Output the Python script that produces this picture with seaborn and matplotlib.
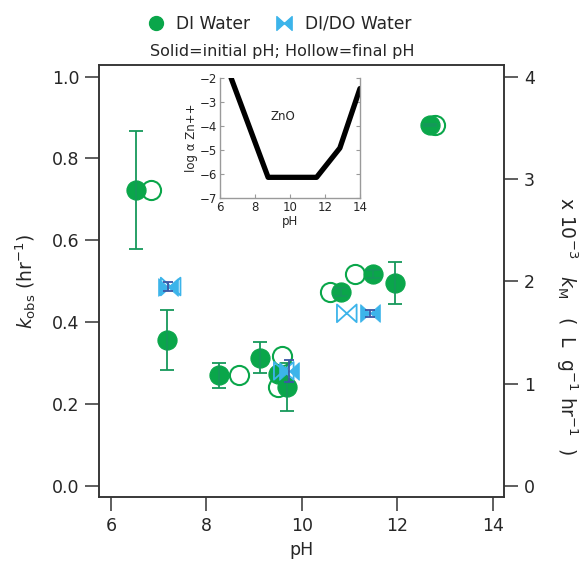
import numpy as np
import pandas as pd
import matplotlib
matplotlib.use("Agg")
import matplotlib.pyplot as plt
from matplotlib.path import Path
from matplotlib.lines import Line2D
import seaborn as sns

# ---------------- data ----------------
di_init_ph = [6.52, 7.17, 8.26, 9.12, 9.49, 9.68, 10.82, 11.49, 11.95, 12.69]
di_init_k = [0.723, 0.356, 0.270, 0.313, 0.273, 0.241, 0.474, 0.517, 0.495, 0.882]
di_init_err = [0.145, 0.073, 0.031, 0.038, 0.0, 0.058, 0.010, 0.010, 0.051, 0.003]

di_final_ph = [6.83, 8.68, 9.58, 9.50, 10.59, 11.12, 12.79]
di_final_k = [0.723, 0.270, 0.317, 0.241, 0.474, 0.517, 0.882]

dido_init_ph = [7.20, 9.72, 11.43]
dido_init_k = [0.487, 0.281, 0.4215]
dido_init_err = [0.012, 0.027, 0.008]

dido_final_ph = [7.25, 9.62, 10.94]
dido_final_k = [0.487, 0.281, 0.4215]

inset_ph = [6.63, 8.75, 11.52, 12.85, 14.0]
inset_log = [-2.0, -6.15, -6.15, -4.93, -2.45]

x_ticks = [6, 8, 10, 12, 14]
y_ticks = [0.0, 0.2, 0.4, 0.6, 0.8, 1.0]
y2_ticks = [0, 1, 2, 3, 4]
inset_yticks = [-7, -6, -5, -4, -3, -2]

# ---------------- style ----------------
sns.set_theme(style="white")
plt.rcParams["font.family"] = ["DejaVu Sans"]
plt.rcParams["mathtext.fontset"] = "dejavusans"

GREEN = "#0aa64a"
GREEN_EB = "#16985a"
BLUE = "#3cb4ea"
BLUE_EB = "#3b57a6"
SPINE = "#333333"

bow = Path([(-1, -0.9), (-1, 0.9), (0, 0), (-1, -0.9),
            (1, 0.9), (1, -0.9), (0, 0), (1, 0.9)],
           [Path.MOVETO, Path.LINETO, Path.LINETO, Path.CLOSEPOLY,
            Path.MOVETO, Path.LINETO, Path.LINETO, Path.CLOSEPOLY])

fig = plt.figure(figsize=(5.86, 5.63), dpi=100)
ax = fig.add_axes([0.169, 0.1167, 0.6916, 0.7684])

df_dif = pd.DataFrame({"pH": di_final_ph, "k": di_final_k})
df_dii = pd.DataFrame({"pH": di_init_ph, "k": di_init_k})
df_ddf = pd.DataFrame({"pH": dido_final_ph, "k": dido_final_k})
df_ddi = pd.DataFrame({"pH": dido_init_ph, "k": dido_init_k})

sns.scatterplot(data=df_dif, x="pH", y="k", ax=ax, marker="o", s=190,
                facecolor="white", edgecolor=GREEN, linewidth=1.5, zorder=3)
sns.scatterplot(data=df_dii, x="pH", y="k", ax=ax, marker="o", s=190,
                color=GREEN, edgecolor=GREEN, linewidth=0.8, zorder=4)
ax.errorbar(di_init_ph, di_init_k, yerr=di_init_err, fmt="none",
            ecolor=GREEN_EB, elinewidth=1.3, capsize=4.7, capthick=1.3, zorder=5)

sns.scatterplot(data=df_ddi, x="pH", y="k", ax=ax, marker=bow, s=200,
                color=BLUE, edgecolor=BLUE, linewidth=0.6, zorder=6)
sns.scatterplot(data=df_ddf, x="pH", y="k", ax=ax, marker=bow, s=200,
                facecolor="none", edgecolor=BLUE, linewidth=1.3, zorder=6)
ax.errorbar(dido_init_ph, dido_init_k, yerr=dido_init_err, fmt="none",
            ecolor=BLUE_EB, elinewidth=1.3, capsize=3.5, capthick=1.3, zorder=7)

ax.set_xlim(5.75, 14.24)
ax.set_ylim(-0.028, 1.029)
ax.set_xticks(x_ticks)
ax.set_xticklabels([str(t) for t in x_ticks])
ax.set_yticks(y_ticks)
ax.set_yticklabels([f"{t:.1f}" for t in y_ticks])
for sp in ax.spines.values():
    sp.set_color(SPINE)
    sp.set_linewidth(1.1)
ax.tick_params(direction="out", length=10, width=1.1, color=SPINE,
               labelsize=12.5, pad=4, bottom=True, left=True)
ax.set_xlabel("pH", fontsize=12.5)
ax.xaxis.set_label_coords(0.5, -0.101)
ax.set_ylabel(r"$k_{\rm obs}$ (hr$^{-1}$)", fontsize=13.5)
ax.yaxis.set_label_coords(-0.150, 0.5)

ax2 = ax.twinx()
ax2.set_ylim(-0.028 * 4, 1.029 * 4)
ax2.set_yticks(y2_ticks)
ax2.set_yticklabels([str(t) for t in y2_ticks])
ax2.tick_params(direction="out", length=10, width=1.1, color=SPINE,
                labelsize=12.5, pad=4, right=True)
for sp in ax2.spines.values():
    sp.set_color(SPINE)
    sp.set_linewidth(1.1)
ax2.set_ylabel(r"x 10$^{-3}$   $k_{\rm M}$   (  L  g$^{-1}$ hr$^{-1}$  )",
               fontsize=13.5, rotation=270)
ax2.yaxis.set_label_coords(1.185, 0.396)
ax2.grid(False)

# ---------------- inset ----------------
ins = fig.add_axes([0.3754, 0.6488, 0.2389, 0.2131])
df_in = pd.DataFrame({"pH": inset_ph, "log": inset_log})
sns.lineplot(data=df_in, x="pH", y="log", ax=ins, color="black",
             linewidth=3.8, sort=False, estimator=None)
ins.set_xlim(6, 14)
ins.set_ylim(-7, -2)
ins.set_xticks(x_ticks)
ins.set_xticklabels([str(t) for t in x_ticks])
ins.set_yticks(inset_yticks)
ins.set_yticklabels(["\u2212" + str(abs(t)) for t in inset_yticks])
ins.spines["top"].set_visible(False)
for s in ["left", "bottom", "right"]:
    ins.spines[s].set_color("#9a9a9a")
    ins.spines[s].set_linewidth(1.0)
ins.tick_params(direction="in", length=3, width=0.8, color="#9a9a9a",
                labelsize=8.5, pad=2, left=True, bottom=True, right=True)
ins.set_xlabel("pH", fontsize=8.5, labelpad=1)
ins.set_ylabel("log \u03b1 Zn++", fontsize=8.5, labelpad=1)
ins.text(9.6, -3.6, "ZnO", fontsize=8.5, ha="center", va="center")
ins.patch.set_alpha(0)
ins.grid(False)
ax.grid(False)

# ---------------- legend ----------------
h1 = Line2D([], [], linestyle="none", marker="o", markersize=10,
            markerfacecolor=GREEN, markeredgecolor=GREEN)
h2 = Line2D([], [], linestyle="none", marker=bow, markersize=11,
            markerfacecolor=BLUE, markeredgecolor=BLUE)
fig.legend([h1, h2], ["DI Water", "DI/DO Water"], loc="center",
           bbox_to_anchor=(0.475, 0.958), ncol=2, frameon=False,
           fontsize=12.3, handletextpad=0.6, columnspacing=1.4,
           handlelength=1.2)
fig.text(0.482, 0.909, "Solid=initial pH; Hollow=final pH", ha="center",
         va="center", fontsize=11.5)

fig.savefig("out.png", dpi=100)
